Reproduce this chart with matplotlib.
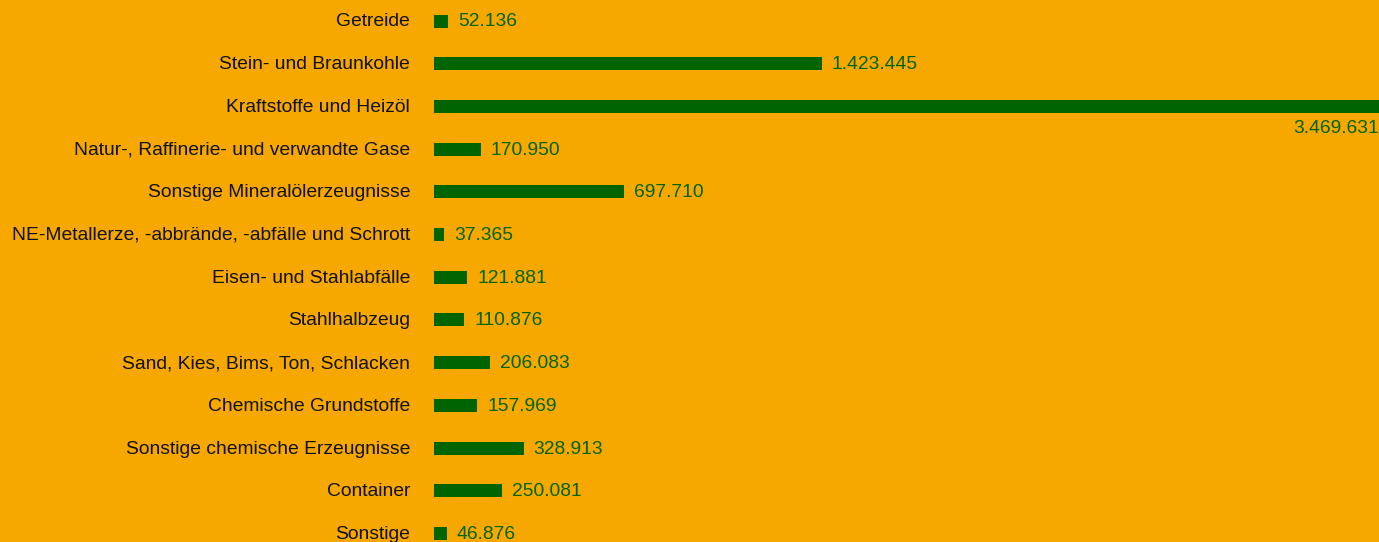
import matplotlib
matplotlib.use("Agg")
import matplotlib.pyplot as plt

categories = ["Getreide", "Stein- und Braunkohle", "Kraftstoffe und Heizöl",
              "Natur-, Raffinerie- und verwandte Gase", "Sonstige Mineralölerzeugnisse",
              "NE-Metallerze, -abbrände, -abfälle und Schrott", "Eisen- und Stahlabfälle",
              "Stahlhalbzeug", "Sand, Kies, Bims, Ton, Schlacken", "Chemische Grundstoffe",
              "Sonstige chemische Erzeugnisse", "Container", "Sonstige"]
values = [52136, 1423445, 3469631, 170950, 697710, 37365, 121881, 110876,
          206083, 157969, 328913, 250081, 46876]

BG = "#F7A800"
GREEN = "#006400"

W, H = 1379, 542
fig = plt.figure(figsize=(W/100, H/100), dpi=100, facecolor=BG)
left = 434 / W
ax = fig.add_axes([left, 0, 1 - left, 1])
ax.set_facecolor(BG)

step = 42.7
y0 = 21
ax.set_ylim((H - y0) / step, -y0 / step)
ax.set_xlim(0, max(values))

ys = list(range(len(categories)))
ax.barh(ys, values, height=13/step, color=GREEN)

def fmt(v):
    return f"{v:,}".replace(",", ".")

font = "Liberation Sans"
fs = 13.85
for y, c, v in zip(ys, categories, values):
    ax.annotate(c, xy=(0, y), xycoords="data", xytext=(-24, -1), textcoords="offset pixels",
                ha="right", va="center", fontsize=fs, color="#111111", family=font,
                annotation_clip=False)
    if v == max(values):
        ax.annotate(fmt(v), xy=(v, y), xytext=(0, -22), textcoords="offset pixels",
                    ha="right", va="center", fontsize=fs, color=GREEN, family=font,
                    annotation_clip=False)
    else:
        ax.annotate(fmt(v), xy=(v, y), xytext=(10, -1), textcoords="offset pixels",
                    ha="left", va="center", fontsize=fs, color=GREEN, family=font,
                    annotation_clip=False)

ax.axis("off")
fig.savefig("out.png", dpi=100, facecolor=BG)
